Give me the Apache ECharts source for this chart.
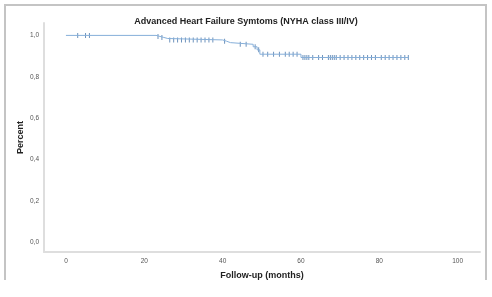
<!DOCTYPE html>
<html>
<head>
<meta charset="utf-8">
<script src="https://cdn.jsdelivr.net/npm/echarts@6/dist/echarts.min.js"></script>
<style>
  html, body { margin: 0; padding: 0; background: #fff; }
  #chart { width: 492px; height: 297px; }
</style>
</head>
<body>
<div id="chart"></div>
<script>
// Kaplan-Meier steps (time in months, cumulative percent surviving)
var stepTimes = [0, 23, 24, 25, 26, 40, 41, 42, 47.8, 48.8, 49.5, 60, 87.4];
var stepSurv = [1, 0.995, 0.99, 0.985, 0.978, 0.972, 0.965, 0.957, 0.945, 0.93, 0.909, 0.893, 0.893];

// censored observations
var censorTimes = [3, 5, 6, 23.5, 24.5, 26.5, 27.5, 28.5, 29.5, 30.5, 31.5, 32.5, 33.5,
  34.5, 35.5, 36.5, 37.5, 40.5, 44.5, 46, 48.3, 49.2, 50.3, 51.5, 53, 54.5, 56, 57,
  58, 59, 60.5, 61, 61.5, 62, 63, 64.5, 65.5, 67, 67.5, 68, 68.5, 69, 70, 71, 72, 73,
  74, 75, 76, 77, 78, 79, 80.5, 81.5, 82.5, 83.5, 84.5, 85.5, 86.5, 87.4];

var xTicks = [0, 20, 40, 60, 80, 100];
var yTicks = [0, 0.2, 0.4, 0.6, 0.8, 1.0];

function survAt(t) {
  var s = stepSurv[0];
  for (var i = 0; i < stepTimes.length; i++) {
    if (stepTimes[i] <= t) s = stepSurv[i];
  }
  return s;
}

var lineData = stepTimes.map(function (t, i) { return [t, stepSurv[i]]; });
var censorData = censorTimes.map(function (t) { return [t, survAt(t)]; });

var chart = echarts.init(document.getElementById("chart"));
chart.setOption({
  animation: false,
  title: {
    text: "Advanced Heart Failure Symtoms (NYHA class III/IV)",
    left: "center",
    top: 12,
    textStyle: { fontFamily: "Liberation Sans", fontSize: 9, fontWeight: "bold", color: "#222" }
  },
  graphic: [
    {
      type: "polyline",
      shape: { points: [[5, 280], [5, 5], [486, 5], [486, 280]] },
      style: { stroke: "#c4c4c4", lineWidth: 2, fill: null }
    }
  ],
  grid: { left: 44, right: 12, top: 23, bottom: 45 },
  xAxis: {
    type: "value",
    min: -5.6,
    max: 105.7,
    name: "Follow-up (months)",
    nameLocation: "middle",
    nameGap: 19,
    nameMoveOverlap: false,
    nameTextStyle: { fontFamily: "Liberation Sans", fontSize: 9, fontWeight: "bold", color: "#222" },
    axisLine: { onZero: false, lineStyle: { color: "#dedede", width: 2 } },
    axisTick: { show: false },
    splitLine: { show: false },
    axisLabel: {
      customValues: xTicks,
      fontFamily: "Liberation Sans",
      fontSize: 6.5,
      color: "#555",
      margin: 6
    }
  },
  yAxis: {
    type: "value",
    min: -0.048,
    max: 1.06,
    name: "Percent",
    nameLocation: "middle",
    nameGap: 19,
    nameMoveOverlap: false,
    nameTextStyle: { fontFamily: "Liberation Sans", fontSize: 9, fontWeight: "bold", color: "#222" },
    axisLine: { show: true, onZero: false, lineStyle: { color: "#dedede", width: 2 } },
    axisTick: { show: false },
    splitLine: { show: false },
    axisLabel: {
      customValues: yTicks,
      fontFamily: "Liberation Sans",
      fontSize: 6.5,
      color: "#555",
      margin: 5,
      formatter: function (v) { return v.toFixed(1).replace(".", ","); }
    }
  },
  series: [
    {
      type: "line",
      step: "end",
      data: lineData,
      showSymbol: false,
      lineStyle: { color: "#86afd9", width: 1 }
    },
    {
      type: "scatter",
      data: censorData,
      symbol: "rect",
      symbolSize: [1, 5],
      itemStyle: { color: "#4a78ad" }
    }
  ]
});
</script>
</body>
</html>
